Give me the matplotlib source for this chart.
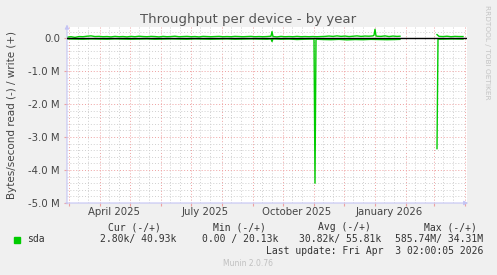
import datetime as dt

import matplotlib
matplotlib.use("Agg")
import matplotlib.pyplot as plt
import matplotlib.dates as mdates
import matplotlib.ticker as mticker
import numpy as np

# --- data (bytes/s, read plotted as negative) ---
start = dt.datetime(2025, 2, 27, 2, 0)
end = dt.datetime(2026, 4, 3, 2, 0)

write_days = [0, 4, 8, 12, 16, 20, 24, 28, 32, 36, 40, 44, 48, 52, 56, 60, 64, 68,
              72, 76, 80, 84, 88, 92, 96, 100, 104, 108, 112, 116, 120, 124, 128,
              132, 136, 140, 144, 148, 152, 156, 160, 164, 168, 172, 176, 180, 184,
              188, 192, 196, 200, 204, 205, 206, 210, 214, 218, 222, 226, 230, 234,
              238, 242, 246, 250, 254, 258, 262, 266, 270, 274, 278, 282, 286, 290,
              294, 298, 302, 306, 307, 308, 309, 310, 314, 318, 322, 326, 330, 333,
              334, 369, 370, 372, 376, 380, 384, 388, 392, 396]
write_k = [30, 45, 25, 50, 45, 60, 70, 50, 55, 45, 50, 40, 55, 45, 50, 40, 55, 45,
           60, 50, 45, 55, 50, 40, 55, 45, 50, 60, 45, 50, 55, 45, 50,
           40, 55, 50, 45, 50, 55, 45, 50, 45, 55, 50, 45, 50, 55,
           45, 50, 45, 50, 60, 200, 50, 40, 55, 45, 50, 45, 55, 45,
           50, 45, 50, 45, 50, 55, 65, 55, 70, 55, 65, 50, 60, 70,
           55, 65, 60, 70, 90, 270, 70, 60, 55, 70, 50, 65, 55, 60,
           np.nan, np.nan, 110, 55, 50, 60, 45, 55, 50, 50]

read_days = [0, 8, 16, 24, 32, 40, 48, 56, 64, 72, 80, 88, 96, 104, 112, 120, 128,
             136, 144, 152, 160, 168, 176, 184, 192, 200, 204, 205, 206, 214, 222,
             230, 238, 246, 247, 248, 249, 256, 264, 272, 280, 288, 296, 304, 312,
             320, 328, 333, 334, 369, 370, 371, 378, 386, 396]
read_k = [-20, -25, -30, -20, -25, -30, -20, -25, -30, -25, -20, -30, -25, -20,
          -25, -30, -20, -25, -30, -25, -20, -30, -25, -20, -25, -30, -20, -100,
          -20, -30, -25, -40, -30, -25, -30, -4400, -30, -40, -45, -35, -50, -40,
          -45, -35, -40, -45, -40, -35, np.nan, np.nan, -3350, -30, -25, -20, -25]

y_ticks = [-5e6, -4e6, -3e6, -2e6, -1e6, 0]
x_label_dates = [dt.datetime(2025, 4, 15), dt.datetime(2025, 7, 15),
                 dt.datetime(2025, 10, 15), dt.datetime(2026, 1, 15)]
x_labels = ["April 2025", "July 2025", "October 2025", "January 2026"]

legend_head = ["Cur (-/+)", "Min (-/+)", "Avg (-/+)", "Max (-/+)"]
legend_vals = ["2.80k/ 40.93k", "0.00 / 20.13k", "30.82k/ 55.81k", "585.74M/ 34.31M"]

GREEN = "#00cc00"
TXT = "#444444"
W, H = 497, 275

fig = plt.figure(figsize=(W / 100, H / 100), dpi=100, facecolor="#f0f0f0")
ax = fig.add_axes([67 / W, 72 / H, 400 / W, 176 / H])
ax.set_facecolor("white")
for s in ax.spines.values():
    s.set_visible(False)

wx = [start + dt.timedelta(days=d) for d in write_days]
rx = [start + dt.timedelta(days=d) for d in read_days]
ax.plot(wx, np.array(write_k) * 1000, color=GREEN, lw=1.0, zorder=3)
ax.plot(rx, np.array(read_k) * 1000, color=GREEN, lw=1.0, zorder=3)
ax.axhline(0, color="black", lw=1.0, zorder=4)

ax.set_xlim(start, end)
ax.set_ylim(-5e6, 0.34e6)

# grids
ax.xaxis.set_major_locator(mdates.MonthLocator(bymonthday=1))
ax.xaxis.set_minor_locator(mdates.DayLocator(bymonthday=[10, 20]))
ax.xaxis.set_major_formatter(mticker.NullFormatter())
ax.yaxis.set_major_locator(mticker.FixedLocator(y_ticks))
ax.yaxis.set_minor_locator(mticker.MultipleLocator(0.2e6))
ax.yaxis.set_major_formatter(
    mticker.FuncFormatter(lambda v, p: "0.0" if v == 0 else f"{v / 1e6:.1f} M"))
ax.grid(which="minor", color="#cfcfcf", lw=0.7, ls=(0, (1, 2)))
ax.grid(which="major", color="#eea0a0", lw=0.7, ls=(0, (1, 2)))
ax.tick_params(axis="y", which="major", labelsize=7.3, labelcolor=TXT,
               length=2, color="#eea0a0", pad=3)
ax.tick_params(axis="x", which="major", length=2, color="#eea0a0")
ax.tick_params(which="minor", length=0)

sec = ax.secondary_xaxis("bottom")
sec.set_xticks(x_label_dates)
sec.set_xticklabels(x_labels)
sec.tick_params(length=0, labelsize=7.3, labelcolor=TXT, pad=3)
for s in sec.spines.values():
    s.set_visible(False)

# axis lines with arrows
ax.annotate("", xy=(0, 1.03), xytext=(0, -0.02), xycoords="axes fraction",
            arrowprops=dict(arrowstyle="-|>", color="#c4c4f4", lw=0.8,
                            mutation_scale=6), annotation_clip=False)
ax.annotate("", xy=(1.01, 0), xytext=(-0.01, 0), xycoords="axes fraction",
            arrowprops=dict(arrowstyle="-|>", color="#c4c4f4", lw=0.8,
                            mutation_scale=6), annotation_clip=False)

# texts
fig.text(248 / W, 1 - 19 / H, "Throughput per device - by year", ha="center",
         va="center", fontsize=9.5, color="#555555")
fig.text(12 / W, 1 - 115 / H, "Bytes/second read (-) / write (+)", rotation=90,
         ha="center", va="center", fontsize=7.5, color=TXT)
fig.text(487 / W, 1 - 52 / H, "RRDTOOL / TOBI OETIKER", rotation=270,
         ha="center", va="center", fontsize=5.3, color="#c4c4c4")

mono = dict(family="DejaVu Sans Mono", fontsize=7, color="#333333", va="center")
head_right = [161, 266, 371, 477]
val_right = [176, 278, 381, 483]
for h, x in zip(legend_head, head_right):
    fig.text(x / W, 1 - 227 / H, h, ha="right", **mono)
for v, x in zip(legend_vals, val_right):
    fig.text(x / W, 1 - 239 / H, v, ha="right", **mono)
fig.patches.append(plt.Rectangle((14 / W, 1 - 243 / H), 6 / W, 6 / H,
                                 transform=fig.transFigure, color=GREEN))
fig.text(27 / W, 1 - 239 / H, "sda", ha="left", **mono)
fig.text(483 / W, 1 - 251 / H, "Last update: Fri Apr  3 02:00:05 2026",
         ha="right", **mono)
fig.text(248 / W, 1 - 263 / H, "Munin 2.0.76", ha="center", va="center",
         fontsize=5.5, color="#c0c0c0")

fig.savefig("out.png", dpi=100, facecolor=fig.get_facecolor())
